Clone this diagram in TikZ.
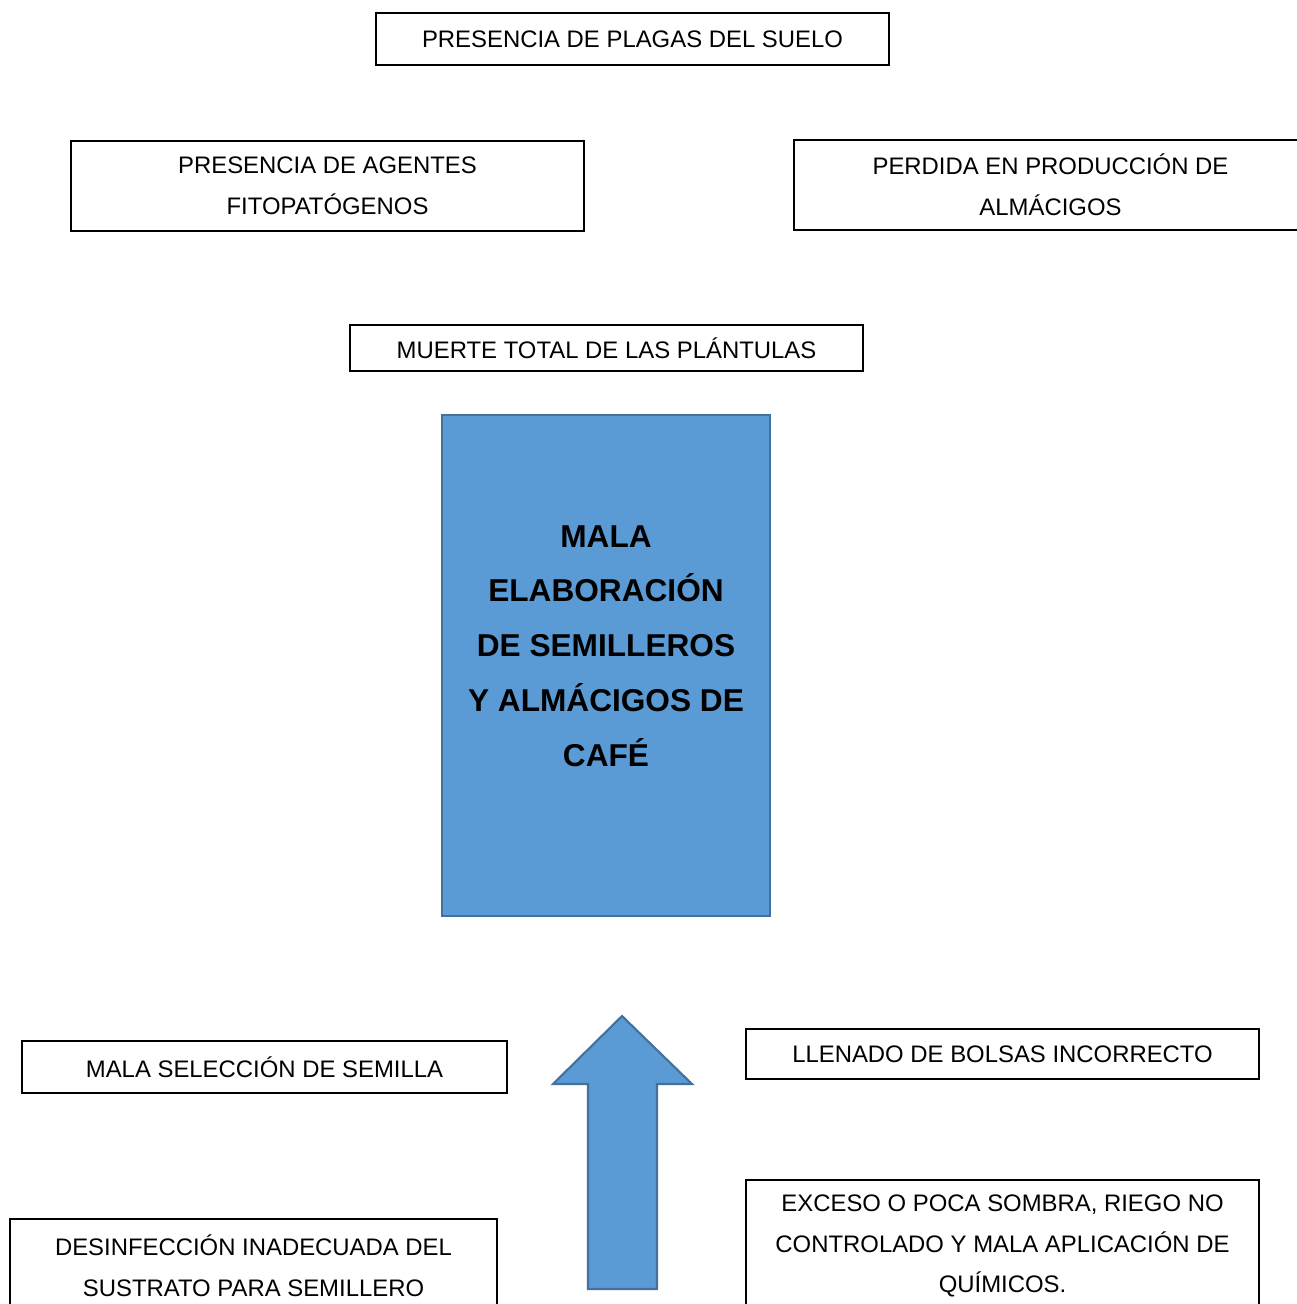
\documentclass[tikz,border=0pt]{standalone}
\usepackage{fontspec}
\setmainfont{Liberation Sans}
\usepackage{xcolor}
\usepackage{tikz}
\usetikzlibrary{positioning}

\definecolor{azulfill}{HTML}{5B9BD5}
\definecolor{azulline}{HTML}{41719C}

\tikzset{
  causa/.style={draw=black, line width=1pt, inner sep=0pt, align=center,
    font=\fontsize{13.6}{23.2}\selectfont},
  problema/.style={draw=azulline, fill=azulfill, line width=1.2pt, inner sep=0pt},
  titulo/.style={align=center, font=\fontsize{18}{31.2}\selectfont\bfseries}
}

\begin{document}
\begin{tikzpicture}[x=0.02cm, y=-0.02cm]
  % page 1297 x 1304 px, 1px = 0.02cm
  \useasboundingbox (0,0) rectangle (1297,1304);
  % efectos
  \node[causa, minimum width=10.26cm, minimum height=1.04cm] (plagas) at (632.5,39)
    {PRESENCIA DE PLAGAS DEL SUELO};
  \node[causa, minimum width=10.26cm, minimum height=1.8cm] (agentes) at (327.5,186)
    {PRESENCIA DE AGENTES\\FITOPATÓGENOS};
  \node[causa, minimum width=10.26cm, minimum height=1.8cm] (perdida) at (1050.5,185)
    {PERDIDA EN PRODUCCIÓN DE\\ALMÁCIGOS};
  \node[causa, minimum width=10.26cm, minimum height=0.92cm] (muerte) at (606.5,348)
    {MUERTE TOTAL DE LAS PLÁNTULAS};
  % problema central
  \node[problema, minimum width=6.56cm, minimum height=10.02cm] (central) at (606,665.5) {};
  \node[titulo] (centraltxt) at (606,646)
    {MALA\\ELABORACIÓN\\DE SEMILLEROS\\Y ALMÁCIGOS DE\\CAFÉ};
  % causas
  \node[causa, minimum width=9.7cm, minimum height=1.04cm] (seleccion) at (264.5,1067)
    {MALA SELECCIÓN DE SEMILLA};
  \node[causa, minimum width=10.26cm, minimum height=1.0cm] (llenado) at (1002.5,1054)
    {LLENADO DE BOLSAS INCORRECTO};
  \node[causa, minimum width=9.74cm, minimum height=1.86cm] (desinfeccion) at (253.5,1265.5)
    {DESINFECCIÓN INADECUADA DEL\\SUSTRATO PARA SEMILLERO};
  \node[causa, minimum width=10.26cm, minimum height=2.64cm] (sombra) at (1002.5,1246)
    {EXCESO O POCA SOMBRA, RIEGO NO\\CONTROLADO Y MALA APLICACIÓN DE\\QUÍMICOS.};
  % flecha hacia arriba
  \filldraw[fill=azulfill, draw=azulline, line width=1.2pt, line join=miter]
    (622,1016) -- (692,1084) -- (657,1084) -- (657,1289) -- (588,1289)
    -- (588,1084) -- (553,1084) -- cycle;
\end{tikzpicture}
\end{document}
